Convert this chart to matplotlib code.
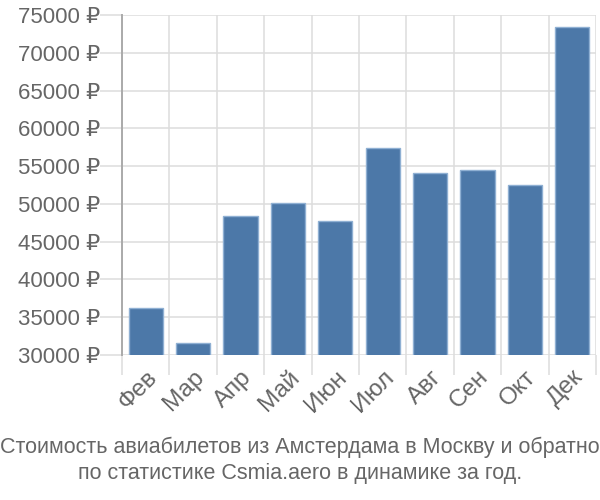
import matplotlib
matplotlib.use("Agg")
import matplotlib.pyplot as plt

# monthly average ticket prices, rubles
months = ["Фев", "Мар", "Апр", "Май", "Июн", "Июл", "Авг", "Сен", "Окт", "Дек"]
prices = [36200, 31600, 48400, 50100, 47700, 57400, 54100, 54500, 52500, 73400]
yticks = [30000, 35000, 40000, 45000, 50000, 55000, 60000, 65000, 70000, 75000]

plt.rcParams['font.family'] = ['Liberation Sans', 'DejaVu Sans']

fig = plt.figure(figsize=(6, 5), dpi=100)
ax = fig.add_axes([122/600, 1-355/500, 474/600, 340/500])

x = list(range(len(months)))
ax.bar(x, prices, width=0.72, color="#4c78a8", edgecolor="#8fb0d3", linewidth=1, zorder=3)
ax.set_xlim(-0.5, len(months)-0.5)
ax.set_ylim(30000, 75000)

# grid lines sit between categories, labels on the bars
ax.set_xticks([i-0.5 for i in x] + [len(months)-0.5], minor=False)
ax.set_xticklabels([])
ax.set_xticks(x, minor=True)
ax.set_xticklabels(months, minor=True, rotation=45, ha="right", va="top",
                   rotation_mode="anchor", fontsize=17.5, color="#666666")
ax.tick_params(axis="x", which="minor", length=0, pad=8)
ax.tick_params(axis="x", which="major", length=14.4, color="#dddddd", width=1.1)
ax.set_yticks(yticks)
ax.set_yticklabels([f"{v} ₽" for v in yticks], fontsize=16, color="#666666")
ax.tick_params(axis="y", length=15.8, color="#dddddd", width=1.1, pad=0)

ax.grid(True, which="major", color="#dddddd", linewidth=1.1, zorder=0)
for s in ["top", "right", "bottom"]:
    ax.spines[s].set_visible(False)
ax.spines["left"].set_color("#aaaaaa")
ax.spines["left"].set_linewidth(1.4)

fig.text(0.5, 1-447/500, "Стоимость авиабилетов из Амстердама в Москву и обратно",
         ha="center", va="center", fontsize=15.5, color="#666666")
fig.text(0.5, 1-473/500, "по статистике Csmia.aero в динамике за год.",
         ha="center", va="center", fontsize=15.5, color="#666666")

fig.savefig("out.png")
